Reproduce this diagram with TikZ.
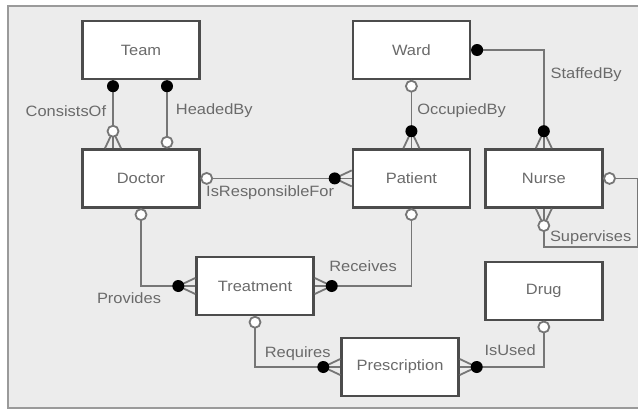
\documentclass[tikz,border=0pt]{standalone}
\usepackage{fontspec}
\setmainfont{Liberation Sans}[FakeStretch=1.1]
\usepackage{tikz}
\usetikzlibrary{positioning}

\definecolor{bggray}{HTML}{ECECEC}
\definecolor{framegray}{HTML}{9A9A9A}
\definecolor{boxgray}{HTML}{4C4C4C}
\definecolor{linkgray}{HTML}{767676}
\definecolor{textgray}{HTML}{6A6A6A}

\begin{document}
\begin{tikzpicture}[
  x=1bp, y=-1bp,
  entity/.style={draw=boxgray, line width=2.4bp, fill=white, minimum width=117bp,
                 minimum height=58bp, font=\fontsize{15}{17}\selectfont, text=textgray},
  lnk/.style={draw=linkgray, line width=1.8bp},
  lbl/.style={font=\fontsize{15}{17}\selectfont, text=textgray, inner sep=0pt},
  one/.pic={\fill[black] (0,-6) circle[radius=6];},
  zero/.pic={\filldraw[lnk, fill=white] (0,-6) circle[radius=5.5];},
  manyone/.pic={\draw[lnk] (-8,0) -- (0,-17) -- (8,0);
                \fill[black] (0,-17) circle[radius=6];},
  manyzero/.pic={\draw[lnk] (-8,0) -- (0,-17) -- (8,0);
                 \filldraw[lnk, fill=white] (0,-17) circle[radius=5.5];},
]
  \useasboundingbox (0,0) rectangle (638,411);
  \filldraw[fill=bggray, draw=framegray, line width=2.5bp] (8,6) rectangle (650,408);

  % entities
  \node[entity]                      (team)         at (141,50)  {Team};
  \node[entity, below=68bp of team]  (doctor)                    {Doctor};
  \node[entity, right=151bp of team] (ward)                      {Ward};
  \node[entity, below=68bp of ward]  (patient)                   {Patient};
  \node[entity, right=13bp of patient] (nurse)                   {Nurse};
  \node[entity, below=52bp of nurse] (drug)                      {Drug};
  \node[entity]                      (treatment)    at (255,286) {Treatment};
  \node[entity]                      (prescription) at (400,367) {Prescription};

  % relationships
  \draw[lnk] ([xshift=-28bp]team.south) -- node[lbl, left=6bp, pos=.45] {ConsistsOf} ([xshift=-28bp]doctor.north);
  \draw[lnk] ([xshift=26bp]team.south) -- node[lbl, right=8bp, pos=.45] {HeadedBy} ([xshift=26bp]doctor.north);
  \draw[lnk] (doctor.east) -- node[lbl, below=6bp, pos=.46] {IsResponsibleFor} (patient.west);
  \draw[lnk] (ward.south) -- node[lbl, right=5bp, pos=.45] {OccupiedBy} (patient.north);
  \draw[lnk] (ward.east) -| node[lbl, right=6bp, pos=.625] {StaffedBy} (nurse.north);
  \draw[lnk] (nurse.east) -- ++(34,0) |- node[lbl, above=1bp, pos=.75] {Supervises} ([yshift=-38bp]nurse.south) -- (nurse.south);
  \draw[lnk] (doctor.south) |- node[lbl, below=6bp, xshift=-12bp, pos=.5] {Provides} (treatment.west);
  \draw[lnk] (patient.south) |- node[lbl, above=13bp, pos=.75] {Receives} (treatment.east);
  \draw[lnk] (treatment.south) |- node[lbl, above=6bp, pos=.75] {Requires} (prescription.west);
  \draw[lnk] (drug.south) |- node[lbl, above=10bp, pos=.7] {IsUsed} (prescription.east);

  % cardinality ends
  \pic[rotate=180] at ([xshift=-28bp]team.south) {one};
  \pic at ([xshift=-28bp]doctor.north) {manyzero};
  \pic[rotate=180] at ([xshift=26bp]team.south) {one};
  \pic at ([xshift=26bp]doctor.north) {zero};
  \pic[rotate=-90] at (doctor.east) {zero};
  \pic[rotate=90] at (patient.west) {manyone};
  \pic[rotate=180] at (ward.south) {zero};
  \pic at (patient.north) {manyone};
  \pic[rotate=-90] at (ward.east) {one};
  \pic at (nurse.north) {manyone};
  \pic[rotate=-90] at (nurse.east) {zero};
  \pic[rotate=180] at (nurse.south) {manyzero};
  \pic[rotate=180] at (doctor.south) {zero};
  \pic[rotate=90] at (treatment.west) {manyone};
  \pic[rotate=180] at (patient.south) {zero};
  \pic[rotate=-90] at (treatment.east) {manyone};
  \pic[rotate=180] at (treatment.south) {zero};
  \pic[rotate=90] at (prescription.west) {manyone};
  \pic[rotate=180] at (drug.south) {zero};
  \pic[rotate=-90] at (prescription.east) {manyone};
\end{tikzpicture}
\end{document}
